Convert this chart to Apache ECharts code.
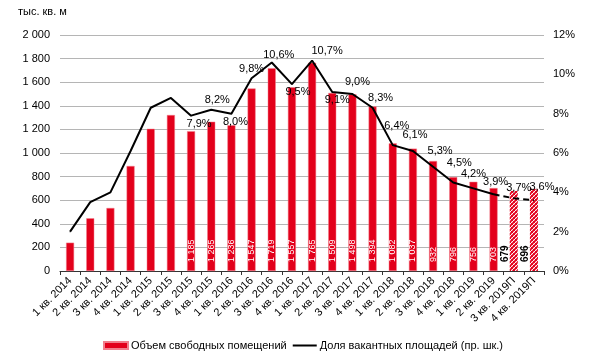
<!DOCTYPE html>
<html><head><meta charset="utf-8">
<script src="https://cdn.jsdelivr.net/npm/echarts@6/dist/echarts.min.js"></script>
<style>html,body{margin:0;padding:0;background:#fff}#c{width:600px;height:357px}</style>
</head><body><div id="c"></div>
<script>
var categories = ['1 кв. 2014','2 кв. 2014','3 кв. 2014','4 кв. 2014','1 кв. 2015','2 кв. 2015','3 кв. 2015','4 кв. 2015','1 кв. 2016','2 кв. 2016','3 кв. 2016','4 кв. 2016','1 кв. 2017','2 кв. 2017','3 кв. 2017','4 кв. 2017','1 кв. 2018','2 кв. 2018','3 кв. 2018','4 кв. 2018','1 кв. 2019','2 кв. 2019','3 кв. 2019П','4 кв. 2019П'];
var volume = [240,447,534,890,1205,1322,1185,1265,1236,1547,1719,1557,1765,1509,1498,1394,1082,1037,932,796,756,703,679,696];
var vacancy = [2.0,3.5,4.0,6.1,8.3,8.8,7.9,8.2,8.0,9.8,10.6,9.5,10.7,9.1,9.0,8.3,6.4,6.1,5.3,4.5,4.2,3.9,3.7,3.6];
var labelBelow = [6,8,11,13];
var firstLabeled = 6;
var lastActual = 21;
var leftTicks = [0,2000,200];
var rightTicks = [0,12,2];

var FONT = "'Liberation Sans', Arial, sans-serif";
function fmtNum(v){ return String(v).replace(/\B(?=(\d{3})+(?!\d))/g,' '); }
function fmtPct(v){ return v.toFixed(1).replace('.',',') + '%'; }

// label nudges (pixels) per point index, for layout only
var nudge = {6:[8,-2],7:[6,0],8:[4,-2],9:[0,1],10:[7,2],11:[6,-2],12:[15,0],13:[5,-2],14:[5,-2],15:[8,0],
  16:[4,-9],17:[2,-6],18:[7,-6],19:[6,-10],20:[0,-4],21:[2,-2],22:[5,0],23:[8,-3]};

// hatch pattern
var pc = document.createElement('canvas'); pc.width = 4; pc.height = 4;
var pctx = pc.getContext('2d');
pctx.fillStyle = '#fff'; pctx.fillRect(0,0,4,4);
pctx.strokeStyle = '#e3001b'; pctx.lineWidth = 1.7;
pctx.beginPath(); pctx.moveTo(0,4); pctx.lineTo(4,0); pctx.moveTo(-1,1); pctx.lineTo(1,-1); pctx.moveTo(3,5); pctx.lineTo(5,3); pctx.stroke();
pctx.lineWidth = 0.9;
pctx.beginPath(); pctx.moveTo(0,0); pctx.lineTo(4,4); pctx.stroke();

var barData = volume.map(function(v,i){
  if (i > lastActual) {
    return {value:v, itemStyle:{color:{image:pc, repeat:'repeat'}, borderWidth:0},
      label:{show:true, color:'#000', fontWeight:'bold', fontSize:10, offset:[0,-9]}};
  }
  return {value:v, label:{show: i >= firstLabeled}};
});

function lineLabel(i){
  return {show: i >= firstLabeled, position: labelBelow.indexOf(i) >= 0 ? 'bottom' : 'top', offset: nudge[i] || [0,0]};
}
var solid = vacancy.map(function(v,i){
  if (i > lastActual) return null;
  return {value:v, label:lineLabel(i)};
});
var dashed = vacancy.map(function(v,i){
  if (i < lastActual) return null;
  var l = lineLabel(i); if (i === lastActual) l.show = false;
  return {value:v, label:l};
});

var chart = echarts.init(document.getElementById('c'), null, {renderer:'canvas'});
chart.setOption({
  animation:false,
  textStyle:{fontFamily:FONT},
  grid:{left:60, right:56, top:35, bottom:86, containLabel:false},
  graphic:[{type:'text', left:18, top:6, style:{text:'тыс. кв. м', font:"11px 'Liberation Sans', Arial, sans-serif", fill:'#000'}}],
  legend:{
    data:[{name:'Объем свободных помещений', icon:'rect'},
          {name:'Доля вакантных площадей (пр. шк.)', icon:'path://M0,0L24,0L24,2L0,2Z', itemStyle:{color:'#000'}}],
    left:103, bottom:6, padding:0, itemWidth:24, itemHeight:7, itemGap:6,
    textStyle:{fontSize:11, color:'#000', fontFamily:FONT, padding:[0,0,0,-2]}
  },
  xAxis:{
    type:'category', data:categories,
    axisLine:{lineStyle:{color:'#333', width:1}},
    axisTick:{show:true, length:4, lineStyle:{color:'#333'}},
    axisLabel:{rotate:45, fontSize:11, color:'#000', margin:8, interval:0, fontFamily:FONT}
  },
  yAxis:[{
    type:'value', min:leftTicks[0], max:leftTicks[1], interval:leftTicks[2],
    axisLine:{show:false}, axisTick:{show:false},
    axisLabel:{fontSize:11, color:'#000', margin:10, formatter:function(v){return fmtNum(v);}},
    splitLine:{lineStyle:{color:'#b5b5b5', width:1}}
  },{
    type:'value', min:rightTicks[0], max:rightTicks[1], interval:rightTicks[2],
    axisLine:{show:false}, axisTick:{show:false}, splitLine:{show:false},
    axisLabel:{fontSize:11, color:'#000', margin:9, formatter:function(v){return v+'%';}}
  }],
  series:[{
    name:'Объем свободных помещений', type:'bar', barWidth:8, yAxisIndex:0,
    itemStyle:{color:'#e3001b', borderColor:'#f07f8c', borderWidth:0.5},
    label:{show:false, position:'insideBottom', rotate:90, align:'left', verticalAlign:'middle', distance:9,
      color:'#fff', fontSize:9, fontFamily:FONT, formatter:function(p){return fmtNum(p.value);}},
    data:barData
  },{
    name:'Доля вакантных площадей (пр. шк.)', type:'line', yAxisIndex:1, symbol:'circle', symbolSize:1, showSymbol:true,
    lineStyle:{color:'#000', width:2}, itemStyle:{color:'#000'},
    label:{fontSize:11, color:'#000', distance:4, formatter:function(p){return fmtPct(p.value);}},
    data:solid
  },{
    name:'dash', type:'line', yAxisIndex:1, symbol:'circle', symbolSize:1, showSymbol:true,
    lineStyle:{color:'#000', width:2, type:[6,4]}, itemStyle:{color:'#000'},
    label:{fontSize:11, color:'#000', distance:4, formatter:function(p){return fmtPct(p.value);}},
    data:dashed
  }]
});
</script></body></html>
